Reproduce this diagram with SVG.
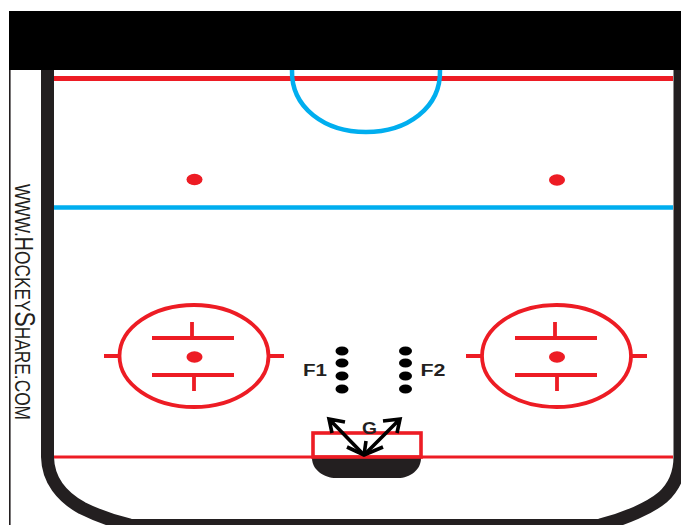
<svg xmlns="http://www.w3.org/2000/svg" width="681" height="525" viewBox="0 0 681 525">
<style>
.r{fill:none;stroke:#ed1c24;stroke-width:3.8}
.rd{fill:#ed1c24}
.k{fill:#000}
.a{fill:none;stroke:#000;stroke-width:3.6}
.t{font-family:"Liberation Sans",Arial,sans-serif;font-weight:bold;font-size:16px;fill:#231f20;text-anchor:middle}
</style>
<rect width="681" height="525" fill="#fff"/>
<g id="rink">
<rect x="9" y="11" width="672" height="59" fill="#000"/>
<rect x="9" y="70" width="1.6" height="455" fill="#231f20"/>
<path d="M47.500 70V457C48 480 62 497 82 508C98 516 112 521 130 525" fill="none" stroke="#231f20" stroke-width="13"/>
<path d="M600 525C625 519 650 508 663 497C675 486 680 472 680 457V70" fill="none" stroke="#231f20" stroke-width="13"/>
<rect x="125" y="519" width="480" height="6" fill="#231f20"/>
<path d="M54 78.500H673" fill="none" stroke="#ed1c24" stroke-width="5"/>
<path d="M54 207.500H673" fill="none" stroke="#00aeef" stroke-width="4.500"/>
<path d="M54 457H673" fill="none" stroke="#ed1c24" stroke-width="3"/>
<path d="M292 70C291 108 325 132 366 132C407 132 441 108 440 70" fill="none" stroke="#00aeef" stroke-width="4.500"/>
<ellipse class="rd" cx="194.500" cy="179.500" rx="8" ry="5.800"/>
<ellipse class="rd" cx="557" cy="180" rx="8" ry="5.800"/>
</g>
<g id="circle-left">
<ellipse class="r" cx="194" cy="356" rx="74.500" ry="51"/>
<path class="r" d="M104 356H119M269 356H284M152 338H234M152 375H234M192 322V338M194 375V391"/>
<ellipse class="rd" cx="194.500" cy="357" rx="8" ry="5.800"/>
</g>
<g id="circle-right">
<ellipse class="r" cx="556.500" cy="356" rx="74.500" ry="51"/>
<path class="r" d="M466 356H482M631 356H647M515 338H597M515 375H597M555 322V338M557 375V391"/>
<ellipse class="rd" cx="557" cy="357" rx="8" ry="5.800"/>
</g>
<g id="goal">
<path d="M312 458H421C421 470 410 478 398 478H336C324 478 312 470 312 458Z" fill="#231f20"/>
<rect x="313" y="433" width="108" height="24" fill="none" stroke="#ed1c24" stroke-width="3.600"/>
</g>
<g id="F1">
<ellipse class="k" cx="342" cy="351" rx="6.500" ry="4.500"/>
<ellipse class="k" cx="342" cy="363" rx="6.500" ry="4.500"/>
<ellipse class="k" cx="342" cy="376" rx="6.500" ry="4.500"/>
<ellipse class="k" cx="342" cy="389" rx="6.500" ry="4.500"/>
<text class="t" x="315" y="376" textLength="24" lengthAdjust="spacingAndGlyphs">F1</text>
</g>
<g id="F2">
<ellipse class="k" cx="405.500" cy="351" rx="6.500" ry="4.500"/>
<ellipse class="k" cx="405.500" cy="363" rx="6.500" ry="4.500"/>
<ellipse class="k" cx="405.500" cy="376" rx="6.500" ry="4.500"/>
<ellipse class="k" cx="405.500" cy="389" rx="6.500" ry="4.500"/>
<text class="t" x="433" y="376" textLength="25" lengthAdjust="spacingAndGlyphs">F2</text>
</g>
<g id="G">
<text class="t" x="369.500" y="433.500" textLength="15" lengthAdjust="spacingAndGlyphs">G</text>
</g>
<g id="connectors">
<path class="a" d="M364 455L330 420M332 433L329 419L345 422"/>
<path class="a" d="M364 455L399 420M383 421L400 419L397 433"/>
<path class="a" d="M347 447L364 455L383 447M366 441L364 455"/>
</g>
<text transform="translate(15,184) rotate(90)" font-family="'Liberation Sans',Arial,sans-serif" font-size="22" fill="#231f20" textLength="236" lengthAdjust="spacingAndGlyphs">WWW.<tspan font-size="25">H</tspan>OCKEY<tspan font-size="29">S</tspan>HARE.COM</text>
</svg>
